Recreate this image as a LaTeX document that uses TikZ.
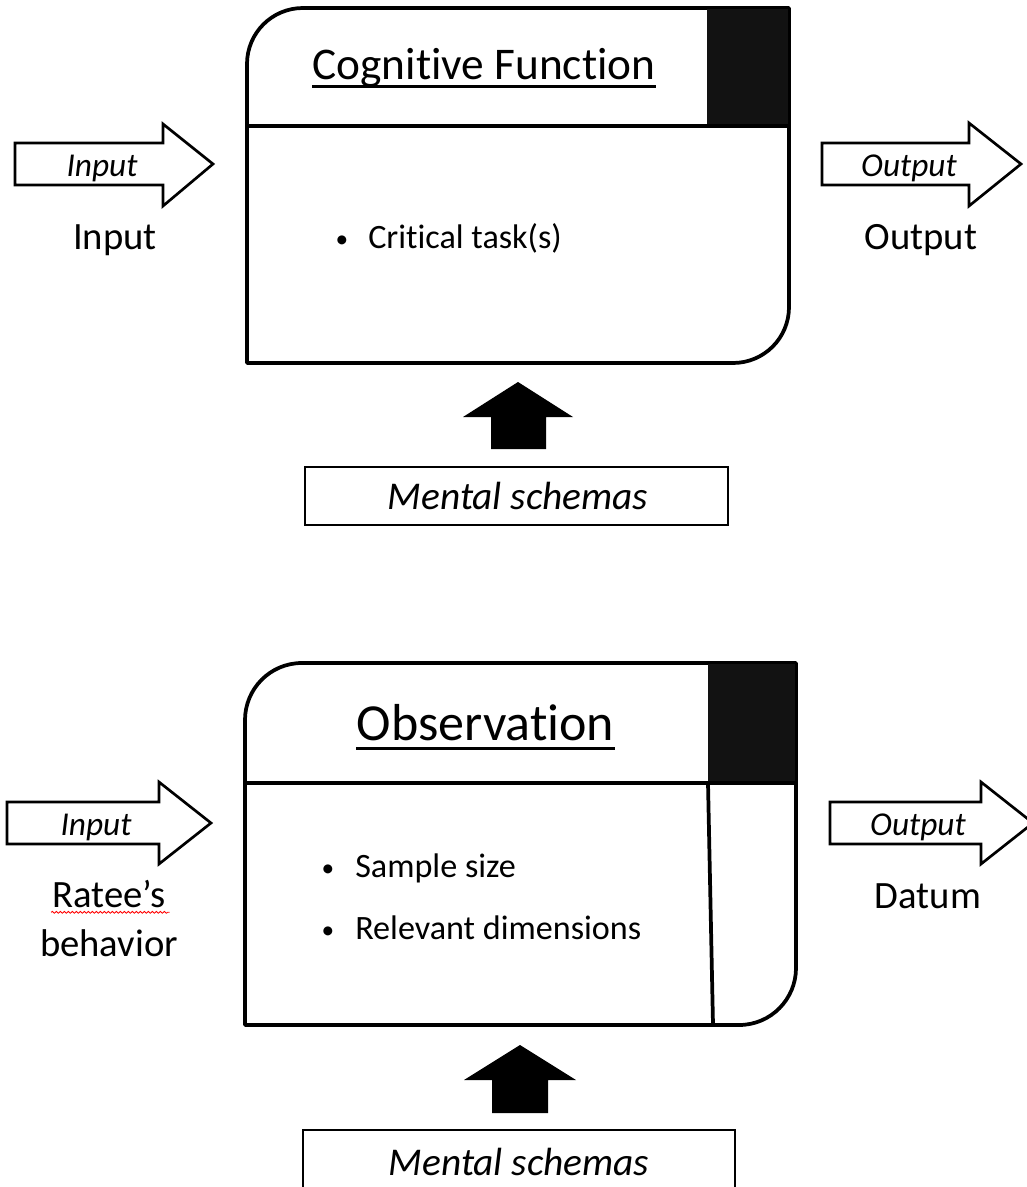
\documentclass[tikz,border=0pt]{standalone}
\usepackage{fontspec}
\setmainfont{Carlito}[Ligatures=NoCommon]
\usetikzlibrary{decorations.pathmorphing}
\begin{document}
\begin{tikzpicture}[x=0.75pt,y=-0.75pt,
  frame/.style={draw, line width=2.8pt, line join=round},
  blockarrow/.style={draw, fill=white, line width=2pt, line join=miter},
  solidarrow/.style={fill=black},
  darkcell/.style={fill=black!93},
  txt/.style={inner sep=0pt, anchor=base},
  title/.style={txt, font=\fontsize{34}{40}\selectfont},
  bigtitle/.style={txt, font=\fontsize{39}{46}\selectfont},
  label/.style={txt, font=\fontsize{29}{34}\selectfont},
  arrowlabel/.style={txt, font=\fontsize{25}{30}\selectfont\itshape},
  item/.style={txt, anchor=base west, font=\fontsize{25.6}{30}\selectfont},
  dot/.style={txt, font=\fontsize{19}{24}\selectfont},
  schemabox/.style={draw, line width=1.6pt, inner sep=0pt},
  schematext/.style={txt, font=\fontsize{29.5}{34}\selectfont\itshape}
]
\useasboundingbox (0,0) rectangle (1026,1187);

% ---------- Cognitive function block ----------
\path[frame, fill=white] (247,64) .. controls (247,33) and (272,8) .. (303,8)
  -- (789,8) -- (789,307) .. controls (789,338) and (764,363) .. (733,363)
  -- (247,363) -- cycle;
\fill[darkcell] (707,9.4) rectangle (787.6,126);
\draw[frame] (247,126) -- (789,126);
\node[title] (cf) at (484,80) {Cognitive Function};
\draw[line width=2.2pt] ([yshift=-5pt]cf.base west) -- ([yshift=-5pt]cf.base east);
\node[dot] (b1) at (342,248) {•};
\node[item] (t1) at (368,249) {Critical task(s)};

% input / output arrows
\draw[blockarrow] (15,143) -- (163,143) -- (163,124) -- (213,164) -- (163,206)
  -- (163,185) -- (15,185) -- cycle;
\node[arrowlabel] (ia) at (102,177) {Input};
\node[label] (il) at (115,250) {Input};
\draw[blockarrow] (822,143) -- (969,143) -- (969,123) -- (1021,164) -- (969,206)
  -- (969,185) -- (822,185) -- cycle;
\node[arrowlabel] (oa) at (909,177) {Output};
\node[label] (ol) at (921,250) {Output};

% mental schemas feeding the block
\fill[solidarrow] (491,449) -- (491,417) -- (463,417) -- (518,382) -- (573,417)
  -- (546,417) -- (546,449) -- cycle;
\node[schemabox, minimum width=423*0.75pt, minimum height=58*0.75pt] (ms1) at (516.5,496) {};
\node[schematext] (ms1t) at (518,509) {Mental schemas};

% ---------- Observation block ----------
\path[frame, fill=white] (245,720) .. controls (245,689) and (270,663) .. (302,663)
  -- (796,663) -- (796,968) .. controls (796,999) and (771,1025) .. (739,1025)
  -- (245,1025) -- cycle;
\fill[darkcell] (708,664.4) rectangle (794.6,783);
\draw[frame] (245,783) -- (796,783);
\draw[frame] (708,783) -- (713,1025);
\node[bigtitle] (ob) at (485.5,740) {Observation};
\draw[line width=2.4pt] ([yshift=-6.5pt]ob.base west) -- ([yshift=-6.5pt]ob.base east);
\node[dot] (b2) at (328,876) {•};
\node[item] (t2) at (355,877) {Sample size};
\node[dot] (b3) at (328,938) {•};
\node[item] (t3) at (355,939) {Relevant dimensions};

\draw[blockarrow] (7,802) -- (159,802) -- (159,782) -- (211,823) -- (159,864)
  -- (159,844) -- (7,844) -- cycle;
\node[arrowlabel] (ib) at (96,835) {Input};
\node[label] (rb) at (109,907) {Ratee’s};
\node[label] (bb) at (109,956) {behavior};
\draw[red, line width=0.6pt, decorate,
  decoration={snake, amplitude=0.7pt, segment length=3pt}]
  ([yshift=-4pt,xshift=-1pt]rb.base west) -- ([yshift=-4pt,xshift=3pt]rb.base east);
\draw[blockarrow] (830,802) -- (981,802) -- (981,782) -- (1033,823) -- (981,864)
  -- (981,844) -- (830,844) -- cycle;
\node[arrowlabel] (ob2) at (918,835) {Output};
\node[label] (dt) at (928,908) {Datum};

\fill[solidarrow] (492,1113) -- (492,1080) -- (464,1080) -- (520,1045) -- (576,1080)
  -- (548,1080) -- (548,1113) -- cycle;
\node[schemabox, minimum width=432*0.75pt, minimum height=70*0.75pt] (ms2) at (519,1165) {};
\node[schematext] (ms2t) at (519,1175) {Mental schemas};
\end{tikzpicture}
\end{document}
